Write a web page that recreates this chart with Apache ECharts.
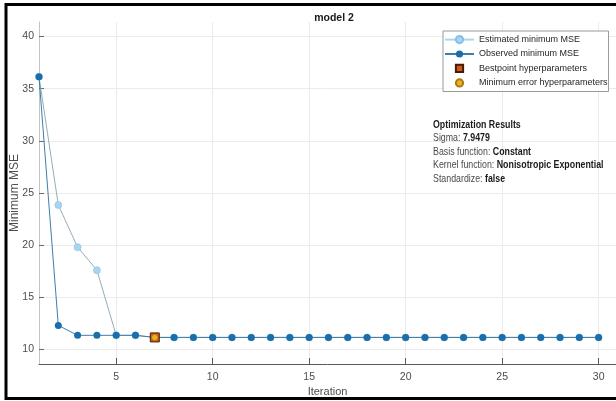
<!DOCTYPE html>
<html>
<head>
<meta charset="utf-8">
<script src="https://cdn.jsdelivr.net/npm/echarts@6/dist/echarts.min.js"></script>
<style>
html,body{margin:0;padding:0;background:#fff;}
#chart{width:616px;height:401px;}
</style>
</head>
<body>
<div id="chart"></div>
<script>
// ---- data ----
var iterations = [1,2,3,4,5,6,7,8,9,10,11,12,13,14,15,16,17,18,19,20,21,22,23,24,25,26,27,28,29,30];
var estimatedMSE = [36.15,23.85,19.8,17.6,11.35,11.35,11.15,11.15,11.15,11.15,11.15,11.15,11.15,11.15,11.15,11.15,11.15,11.15,11.15,11.15,11.15,11.15,11.15,11.15,11.15,11.15,11.15,11.15,11.15,11.15];
var observedMSE = [36.15,12.3,11.35,11.35,11.35,11.35,11.15,11.15,11.15,11.15,11.15,11.15,11.15,11.15,11.15,11.15,11.15,11.15,11.15,11.15,11.15,11.15,11.15,11.15,11.15,11.15,11.15,11.15,11.15,11.15];
var bestIteration = 7;
var bestMSE = 11.15;
var xTicks = [5,10,15,20,25,30];
var yTicks = [10,15,20,25,30,35,40];
var seriesNames = ['Estimated minimum MSE','Observed minimum MSE','Bestpoint hyperparameters','Minimum error hyperparameters'];
var titleText = 'model 2';
var xName = 'Iteration';
var yName = 'Minimum MSE';
var resultsTitle = 'Optimization Results';
var resultsRows = [['Sigma: ','7.9479'],['Basis function: ','Constant'],['Kernel function: ','Nonisotropic Exponential'],['Standardize: ','false']];

function pairs(xs, ys){ return xs.map(function(x,i){ return [x, ys[i]]; }); }

var FONT = "'Liberation Sans Narrow', 'Liberation Sans', Arial, sans-serif";
var chart = echarts.init(document.getElementById('chart'), null, {renderer:'canvas'});

var resultsText = '{b|' + resultsTitle + '}\n' + resultsRows.map(function(r){ return '{n|' + r[0] + '}{b|' + r[1] + '}'; }).join('\n');

chart.setOption({
  animation: false,
  backgroundColor: '#ffffff',
  title: {
    text: titleText, left: 329, top: 8, textAlign: 'center',
    textStyle: {fontFamily: FONT, fontSize: 10.5, fontWeight: 'bold', color: '#1a1a1a'}
  },
  grid: {left: 39, right: 0, top: 22, bottom: 37, containLabel: false, outerBoundsMode: 'none'},
  legend: {
    orient: 'vertical', left: 443, top: 31,
    padding: [4, 1, 4, 1],
    itemWidth: 29, itemHeight: 9, itemGap: 5.3,
    backgroundColor: '#ffffff', borderColor: '#9a9a9a', borderWidth: 1, borderRadius: 0,
    textStyle: {fontFamily: FONT, fontSize: 9, color: '#262626'},
    data: [
      {name: seriesNames[0], lineStyle: {color: '#a8d5f0'}},
      {name: seriesNames[1]},
      {name: seriesNames[2]},
      {name: seriesNames[3]}
    ]
  },
  xAxis: {
    type: 'value', min: 1, max: 30.9,
    name: xName, nameLocation: 'middle', nameGap: 22, nameMoveOverlap: false,
    nameTextStyle: {fontFamily: FONT, fontSize: 11, color: '#4d4d4d'},
    axisLine: {show: true, lineStyle: {color: '#5a5a5a', width: 1}},
    axisTick: {show: true, inside: true, length: 6, customValues: xTicks, lineStyle: {color: '#5a5a5a'}},
    axisLabel: {customValues: xTicks, margin: 8, fontFamily: FONT, fontSize: 10.5, color: '#4d4d4d'},
    splitLine: {show: true, lineStyle: {color: '#ebebeb', width: 1}}
  },
  yAxis: {
    type: 'value', min: 8.6, max: 41.4,
    name: yName, nameLocation: 'middle', nameGap: 18, nameMoveOverlap: false,
    nameTextStyle: {fontFamily: FONT, fontSize: 12, color: '#4d4d4d'},
    axisLine: {show: true, lineStyle: {color: '#c4c4c4', width: 1}},
    axisTick: {show: true, inside: true, length: 5, customValues: yTicks, lineStyle: {color: '#6a6a6a'}},
    axisLabel: {customValues: yTicks, margin: 5, fontFamily: FONT, fontSize: 10.5, color: '#4d4d4d'},
    splitLine: {show: true, lineStyle: {color: '#ebebeb', width: 1}}
  },
  graphic: [
    {
      type: 'text', x: 433, y: 118.5, scaleX: 0.84, silent: true, z: 20,
      style: {
        text: resultsText,
        fontFamily: FONT, fontSize: 10.5, fill: '#333',
        rich: {
          b: {fontFamily: FONT, fontSize: 10.5, fontWeight: 'bold', fill: '#1a1a1a', lineHeight: 13.4},
          n: {fontFamily: FONT, fontSize: 10.5, fill: '#4a4a4a', lineHeight: 13.4}
        }
      }
    },
    {
      type: 'rect', silent: true, z: 100,
      shape: {x: 6, y: 4.5, width: 700, height: 394},
      style: {fill: 'none', stroke: '#000', lineWidth: 3}
    }
  ],
  series: [
    {
      name: seriesNames[0], type: 'line', z: 2,
      data: pairs(iterations, estimatedMSE),
      symbol: 'circle', symbolSize: 7, showSymbol: true,
      itemStyle: {color: '#a8d5f0', borderColor: '#86bfe3', borderWidth: 0.6},
      lineStyle: {color: '#93aeb9', width: 1}
    },
    {
      name: seriesNames[1], type: 'line', z: 3,
      data: pairs(iterations, observedMSE),
      symbol: 'circle', symbolSize: 7, showSymbol: true,
      itemStyle: {color: '#1b6ea9', borderColor: '#1b6ea9', borderWidth: 0},
      lineStyle: {color: '#3d7fa8', width: 1}
    },
    {
      name: seriesNames[2], type: 'line', z: 4,
      data: [[bestIteration, bestMSE]],
      symbol: 'rect', symbolSize: 9,
      itemStyle: {color: '#D95319', borderColor: '#3d1f08', borderWidth: 1},
      lineStyle: {opacity: 0, width: 0}
    },
    {
      name: seriesNames[3], type: 'line', z: 5,
      data: [[bestIteration, bestMSE]],
      symbol: 'circle', symbolSize: 6,
      itemStyle: {color: '#EDB120', borderColor: '#a87a10', borderWidth: 0.6},
      lineStyle: {opacity: 0, width: 0}
    }
  ]
});
</script>
</body>
</html>
